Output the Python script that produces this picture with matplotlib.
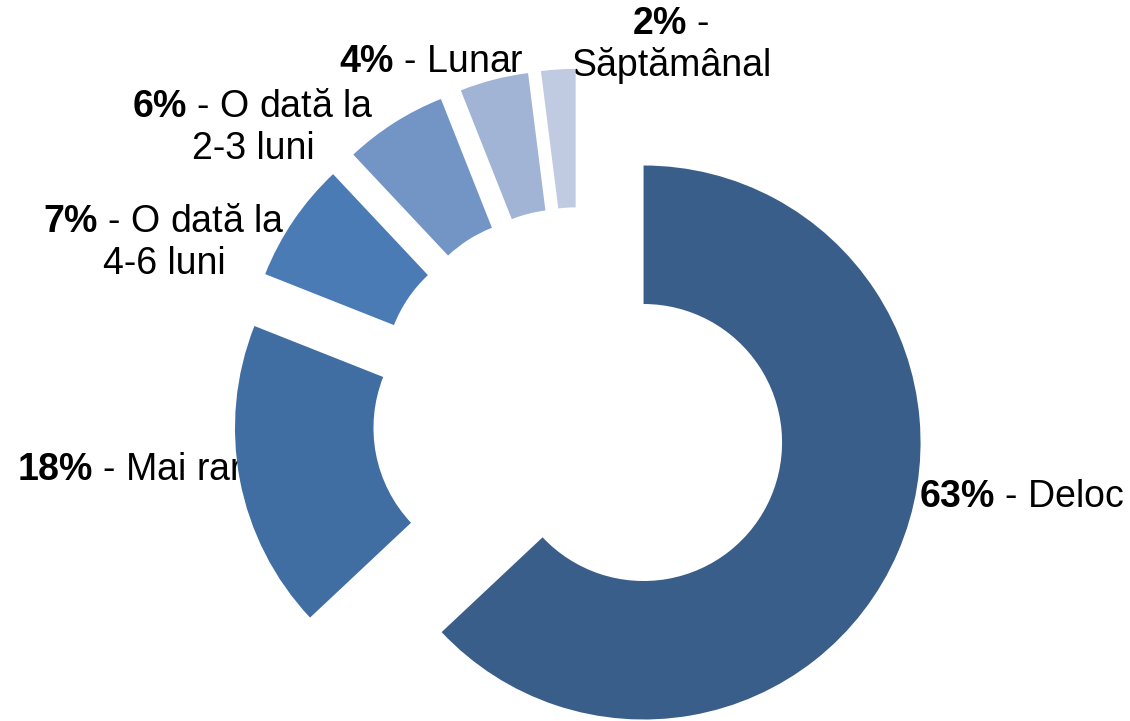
import matplotlib
matplotlib.use('Agg')
import matplotlib.pyplot as plt

plt.rcParams['font.family'] = ['Liberation Sans', 'DejaVu Sans']
plt.rcParams['mathtext.fontset'] = 'custom'
plt.rcParams['mathtext.bf'] = 'Liberation Sans:bold'
plt.rcParams['mathtext.rm'] = 'Liberation Sans'

categories = ['Deloc', 'Mai rar', 'O dată la\n4-6 luni', 'O dată la\n2-3 luni',
              'Lunar', 'Săptămânal']
values = [63, 18, 7, 6, 4, 2]
colors = ['#3a5e8a', '#416ea2', '#4a7bb5', '#7395c6', '#a1b4d6', '#c0cbe1']
label_texts = [r'$\mathbf{63\%}$ - Deloc',
               r'$\mathbf{18\%}$ - Mai rar',
               '$\\mathbf{7\\%}$ - O dată la\n4-6 luni',
               '$\\mathbf{6\\%}$ - O dată la\n2-3 luni',
               r'$\mathbf{4\%}$ - Lunar',
               '$\\mathbf{2\\%}$ -\nSăptămânal']
# label centres in pixel coordinates of the reference
label_px = [(1022, 497), (130, 470), (164, 243), (253, 128), (431, 62), (671, 45)]

CX, CY, RPX = 580, 415, 277

fig = plt.figure(figsize=(11.3, 7.21), dpi=100)
ax = fig.add_axes([0, 0, 1, 1])
ax.axis('off')

wedges, _ = ax.pie(values, colors=colors, startangle=90, counterclock=False,
                   explode=[0.25] * len(values), radius=1,
                   wedgeprops={'width': 0.5, 'edgecolor': 'none', 'zorder': 3})
ax.set_aspect('auto')
ax.set_xlim(-CX / RPX, (1130 - CX) / RPX)
ax.set_ylim((CY - 721) / RPX, CY / RPX)

for txt, (px, py) in zip(label_texts, label_px):
    ax.text((px - CX) / RPX, (CY - py) / RPX, txt, ha='center', va='center',
            multialignment='center', fontsize=27, color='black', zorder=1,
            linespacing=1.2)

fig.savefig('out.png', dpi=100, facecolor='white')
